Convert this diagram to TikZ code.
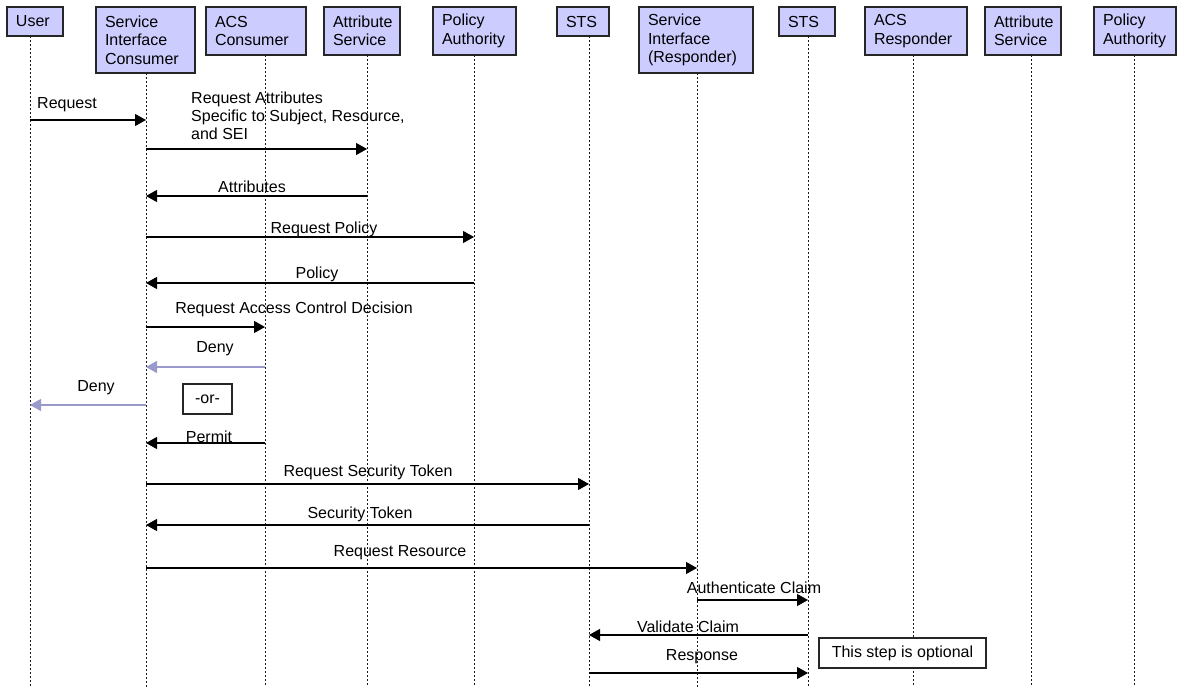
\documentclass[tikz,border=0pt]{standalone}
\usepackage{fontspec}
\setmainfont{Liberation Sans}
\usetikzlibrary{arrows.meta}
\definecolor{actorfill}{HTML}{CCCCFF}
\definecolor{altline}{HTML}{9999CC}
\begin{document}
\begin{tikzpicture}[x=1pt,y=-1pt,
  font=\fontsize{16}{18.5}\selectfont,
  actor/.style={draw=black!85, line width=1.3pt, fill=actorfill, anchor=north west,
    align=left, inner xsep=9pt, inner ysep=0pt, outer sep=0pt},
  life/.style={draw=black!90, line width=1pt, dash pattern=on 2pt off 2pt},
  msg/.style={line width=1.2pt, -{Triangle[length=11pt,width=12pt]}},
  altmsg/.style={msg, color=altline},
  lbl/.style={inner sep=0pt, yshift=-2pt},
  notebox/.style={draw=black!85, line width=1.2pt, fill=white, inner sep=0pt}
]
\useasboundingbox (0,0) rectangle (1178,687);
\fill[white] (0,0) rectangle (1178,687);

% participants
\node[actor, text width=38pt, minimum height=29pt] (user)  at (7,7)    {User};
\node[actor, text width=81pt, minimum height=66pt] (sic)   at (96,7)   {Service\\Interface\\Consumer};
\node[actor, text width=82pt, minimum height=48pt] (acsc)  at (206,7)  {ACS\\Consumer};
\node[actor, text width=58pt, minimum height=48pt] (attr)  at (324,7)  {Attribute\\Service};
\node[actor, text width=65pt, minimum height=48pt] (pa)    at (433,7)  {Policy\\Authority};
\node[actor, text width=34pt, minimum height=29pt] (sts)   at (557,7)  {STS};
\node[actor, text width=96pt, minimum height=66pt] (sir)   at (639,7)  {Service\\Interface\\(Responder)};
\node[actor, text width=38pt, minimum height=29pt] (stsr)  at (779,7)  {STS};
\node[actor, text width=84pt, minimum height=48pt] (acsr)  at (865,7)  {ACS\\Responder};
\node[actor, text width=58pt, minimum height=48pt] (attrr) at (985,7)  {Attribute\\Service};
\node[actor, text width=64pt, minimum height=48pt] (par)   at (1094,7) {Policy\\Authority};

% lifelines
\coordinate (L-user)  at (30,36);
\coordinate (L-sic)   at (146,73);
\coordinate (L-acsc)  at (265,55);
\coordinate (L-attr)  at (367,55);
\coordinate (L-pa)    at (474,55);
\coordinate (L-sts)   at (589,36);
\coordinate (L-sir)   at (697,73);
\coordinate (L-stsr)  at (808,36);
\coordinate (L-acsr)  at (913,55);
\coordinate (L-attrr) at (1031,55);
\coordinate (L-par)   at (1134,55);
\foreach \l in {user,sic,acsc,attr,pa,sts,sir,stsr,acsr,attrr,par}
  \draw[life] (L-\l) -- (L-\l |- 0,687);

% messages
\draw[msg] (L-user |- 0,120) -- (L-sic |- 0,120);
\node[lbl] (t1) at (67,103) {Request};

\draw[msg] (L-sic |- 0,149) -- (L-attr |- 0,149);
\node[lbl, anchor=north west, align=left, font=\fontsize{16}{18}\selectfont] (t2) at (191,90)
  {Request Attributes\\Specific to Subject, Resource,\\and SEI};

\draw[msg] (L-attr |- 0,196) -- (L-sic |- 0,196);
\node[lbl] (t3) at (252,185) {Attributes};

\draw[msg] (L-sic |- 0,237) -- (L-pa |- 0,237);
\node[lbl] (t4) at (324,227) {Request Policy};

\draw[msg] (L-pa |- 0,283) -- (L-sic |- 0,283);
\node[lbl] (t5) at (317,272) {Policy};

\draw[msg] (L-sic |- 0,327) -- (L-acsc |- 0,327);
\node[lbl] (t6) at (294,307) {Request Access Control Decision};

\draw[altmsg] (L-acsc |- 0,367) -- (L-sic |- 0,367);
\node[lbl] (t7) at (215,347) {Deny};

\draw[altmsg] (L-sic |- 0,405) -- (L-user |- 0,405);
\node[lbl] (t8) at (96,386) {Deny};

\node[notebox, minimum width=49pt, minimum height=30pt] (or) at (207.5,399) {-or-};

\draw[msg] (L-acsc |- 0,443) -- (L-sic |- 0,443);
\node[lbl] (t9) at (209,435) {Permit};

\draw[msg] (L-sic |- 0,484) -- (L-sts |- 0,484);
\node[lbl] (t10) at (368,470) {Request Security Token};

\draw[msg] (L-sts |- 0,525) -- (L-sic |- 0,525);
\node[lbl] (t11) at (360,512) {Security Token};

\draw[msg] (L-sic |- 0,568) -- (L-sir |- 0,568);
\node[lbl] (t12) at (400,551) {Request Resource};

\draw[msg] (L-sir |- 0,600) -- (L-stsr |- 0,600);
\node[lbl] (t13) at (754,586) {Authenticate Claim};

\draw[msg] (L-stsr |- 0,635) -- (L-sts |- 0,635);
\node[lbl] (t14) at (688,625) {Validate Claim};

\draw[msg] (L-sts |- 0,673) -- (L-stsr |- 0,673);
\node[lbl] (t15) at (702,655) {Response};

\node[notebox, minimum width=167pt, minimum height=30pt] (opt) at (902.5,653) {This step is optional};
\end{tikzpicture}
\end{document}
